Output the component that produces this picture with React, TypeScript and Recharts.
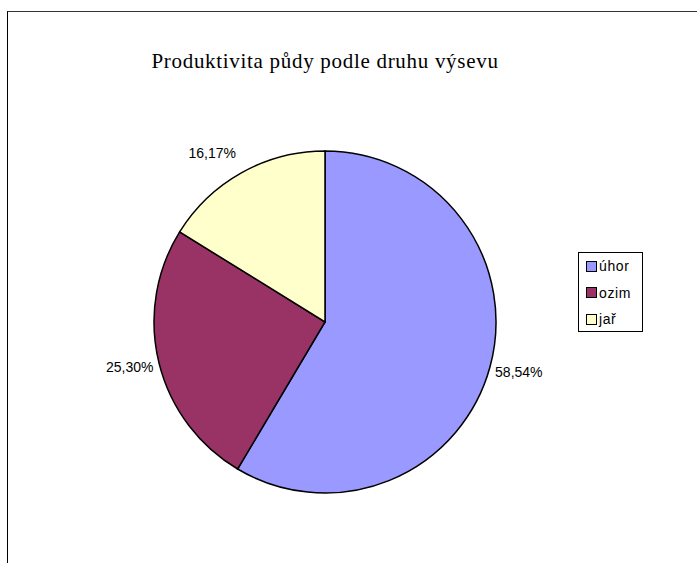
import { PieChart, Pie, Cell, Legend } from 'recharts'

const categories = ['úhor', 'ozim', 'jař']
const shares = [58.54, 25.3, 16.17]
const colors = ['#9999FF', '#993366', '#FFFFCC']
const title = 'Produktivita půdy podle druhu výsevu'

const data = categories.map((name, i) => ({ name, value: shares[i] }))

const RAD = Math.PI / 180

const fmt = (v: number) => v.toFixed(2).replace('.', ',') + '%'

function renderLabel(props: any) {
  const { cx, cy, midAngle, value } = props
  const d = 201
  const m = ((midAngle % 360) + 360) % 360
  // labels near the top sit a little further round, like in the original
  const a = m > 60 && m < 150 ? m + 5 : m
  const x = cx + d * Math.cos(-a * RAD)
  const y = cy + d * Math.sin(-a * RAD) - 3
  return (
    <text
      x={x}
      y={y}
      textAnchor="middle"
      dominantBaseline="central"
      fontFamily="'Liberation Sans', Arial, sans-serif"
      fontSize={14}
      fill="#000"
    >
      {fmt(value)}
    </text>
  )
}

function LegendBox() {
  return (
    <div
      style={{
        border: '1px solid #000',
        width: 63,
        height: 78,
        boxSizing: 'content-box',
        fontFamily: "'Liberation Sans', Arial, sans-serif",
        fontSize: 14,
        letterSpacing: 0.6,
      }}
    >
      {categories.map((c, i) => (
        <div key={c} style={{ display: 'flex', alignItems: 'center', height: 26.5, paddingLeft: 7 }}>
          <span
            style={{
              display: 'inline-block',
              width: 9,
              height: 9,
              border: '1.5px solid #000',
              background: colors[i],
              marginRight: 2,
            }}
          />
          <span>{c}</span>
        </div>
      ))}
    </div>
  )
}

export default function App() {
  return (
    <div style={{ position: 'absolute', left: 0, top: 0, width: 697, height: 563, background: '#fff' }}>
      <div
        style={{
          position: 'absolute',
          left: 7,
          top: 11,
          width: 690,
          height: 552,
          borderTop: '1.5px solid #333',
          borderLeft: '1.5px solid #000',
        }}
      />
      <div
        style={{
          position: 'absolute',
          left: 0,
          top: 49,
          width: 650,
          textAlign: 'center',
          fontFamily: "'Liberation Serif', 'Times New Roman', serif",
          fontSize: 21,
          letterSpacing: 0.7,
          color: '#000',
        }}
      >
        {title}
      </div>
      <div style={{ position: 'absolute', left: 0, top: 0 }}>
        <PieChart width={697} height={563}>
          <Pie
            data={data}
            dataKey="value"
            nameKey="name"
            cx={320}
            cy={317}
            outerRadius={171}
            startAngle={90}
            endAngle={-270}
            stroke="#000"
            strokeWidth={1.5}
            label={renderLabel}
            labelLine={false}
            isAnimationActive={false}
          >
            {data.map((d, i) => (
              <Cell key={d.name} fill={colors[i]} />
            ))}
          </Pie>
          <Legend
            layout="vertical"
            content={() => <LegendBox />}
            wrapperStyle={{ position: 'absolute', left: 578, top: 252, width: 65 }}
          />
        </PieChart>
      </div>
    </div>
  )
}
